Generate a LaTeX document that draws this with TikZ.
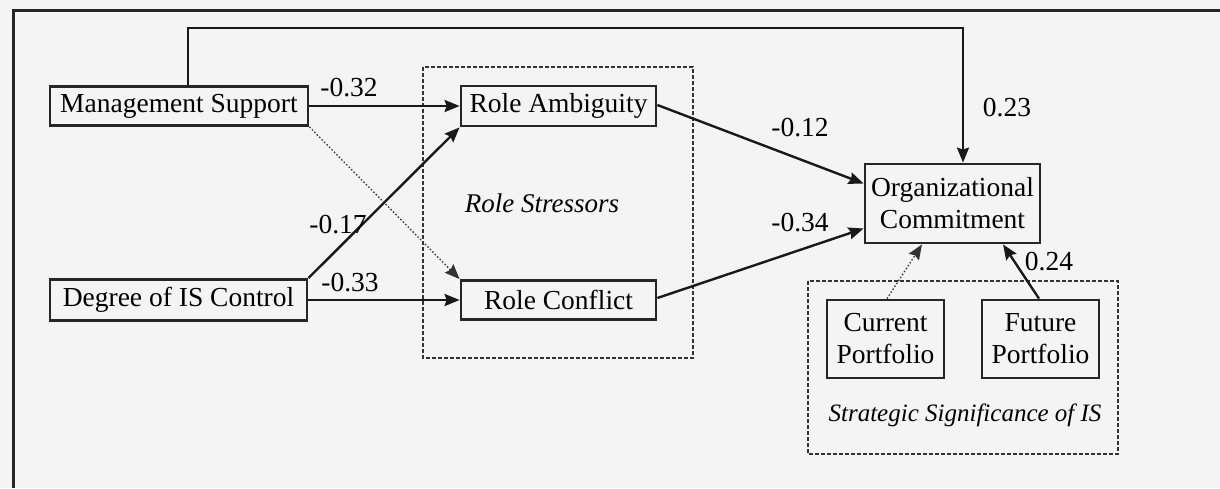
\documentclass[tikz,border=0pt]{standalone}
\usepackage{fontspec}
\setmainfont{Liberation Serif}
\usetikzlibrary{arrows.meta}
\begin{document}
\begin{tikzpicture}[x=1pt,y=-1pt,
  box/.style={draw=black!85, line width=2.8pt, inner sep=0pt, align=center, font=\fontsize{27.5}{32}\selectfont},
  grp/.style={draw=black!80, line width=1.3pt, dash pattern=on 4pt off 2pt},
  arr/.style={draw=black!90, line width=2.4pt, -{Stealth[length=15pt,width=12pt,inset=2pt]}},
  dotarr/.style={draw=black!80, line width=1.3pt, dash pattern=on 1.5pt off 2pt, -{Stealth[length=15pt,width=12pt,inset=2pt]}},
  lbl/.style={font=\fontsize{27.5}{32}\selectfont, inner sep=0pt},
  grplbl/.style={font=\fontsize{27}{32}\selectfont\itshape, inner sep=0pt}]
\useasboundingbox (0,0) rectangle (1220,488);
\fill[gray!9] (0,0) rectangle (1220,488);
% outer frame (top and left edges)
\draw[line width=3pt, black!85] (1220,10) -- (13,10) -- (13,488);
% group boxes
\draw[grp] (423,67) rectangle (693,358);
\draw[grp] (808,281) rectangle (1118,454);
\node[grplbl] (rs) at (542,203) {Role Stressors};
\node[grplbl, font=\fontsize{25}{30}\selectfont\itshape] (ss) at (965,415) {Strategic Significance of IS};
% nodes
\node[box, minimum width=258pt, minimum height=39pt] (ms) at (179,106) {Management Support};
\node[box, minimum width=257pt, minimum height=41pt] (dic) at (178.5,300) {Degree of IS Control};
\node[box, minimum width=195pt, minimum height=40pt] (ra) at (558.5,106) {Role Ambiguity};
\node[box, minimum width=195pt, minimum height=39pt] (rc) at (558.5,300) {Role Conflict};
\node[box, minimum width=175pt, minimum height=79pt] (oc) at (952.5,203.5) {Organizational\\Commitment};
\node[box, minimum width=117pt, minimum height=78pt] (cp) at (885.5,339) {Current\\Portfolio};
\node[box, minimum width=117pt, minimum height=78pt] (fp) at (1040.5,339) {Future\\Portfolio};
% connectors
\coordinate (t1) at (188,28);
\coordinate (t2) at (963,28);
\draw[arr] ([xshift=9pt]ms.north) -- (t1) -- (t2) -- ([xshift=10.5pt]oc.north);
\draw[arr] (ms.east) -- (ra.west);
\draw[arr] (dic.east) -- (rc.west);
\draw[arr] (dic.north east) -- (ra.south west);
\draw[dotarr] (ms.south east) -- (rc.north west);
\draw[arr] ([yshift=1pt]ra.east) -- ([yshift=20pt]oc.west);
\draw[arr] ([yshift=2pt]rc.east) -- ([yshift=-25pt]oc.west);
\draw[dotarr] ([xshift=1.5pt]cp.north) -- ([xshift=-30.5pt]oc.south);
\draw[arr] ([xshift=-1.5pt]fp.north) -- ([xshift=50.5pt]oc.south);
% labels
\node[lbl] (l1) at (349,88) {-0.32};
\node[lbl] (l2) at (350,283) {-0.33};
\node[lbl] (l3) at (338,225) {-0.17};
\node[lbl] (l4) at (800,128) {-0.12};
\node[lbl] (l5) at (800,223) {-0.34};
\node[lbl] (l6) at (1007,108) {0.23};
\node[lbl] (l7) at (1049,262) {0.24};
\end{tikzpicture}
\end{document}
